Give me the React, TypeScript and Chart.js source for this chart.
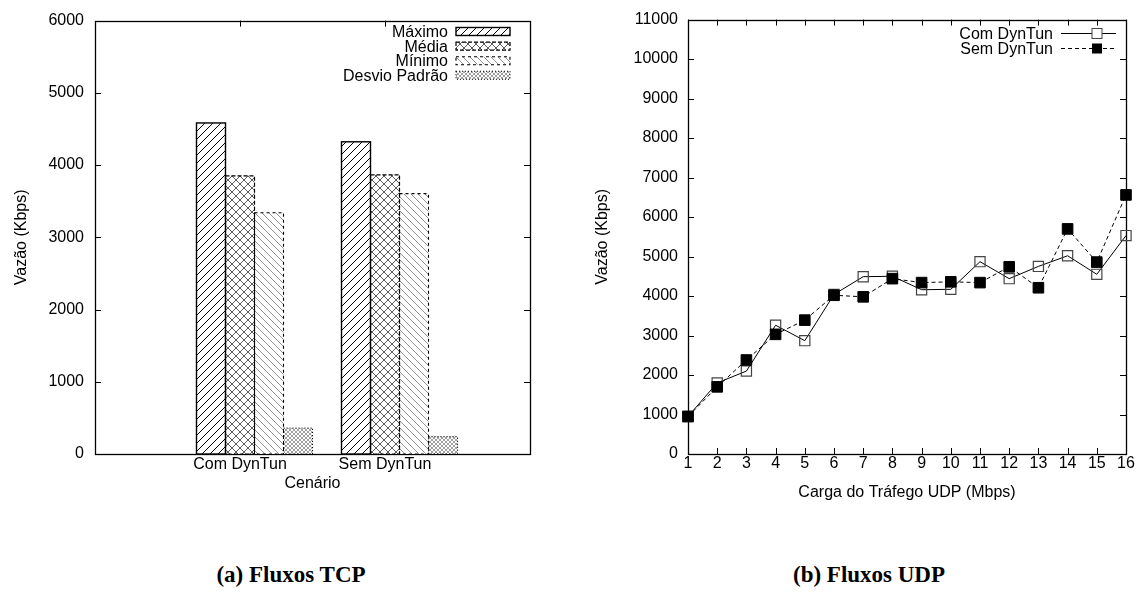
import React, { useEffect, useRef } from 'react';
import { Chart, registerables } from 'chart.js';

Chart.register(...registerables);

// ---------------- data ----------------
const tcpCategories = ['Com DynTun', 'Sem DynTun'];
const tcpSeriesNames = ['Máximo', 'Média', 'Mínimo', 'Desvio Padrão'];
const tcpMaximo = [4583, 4322];
const tcpMedia = [3851, 3865];
const tcpMinimo = [3339, 3604];
const tcpDesvio = [359, 240];
const tcpYTicks = [0, 1000, 2000, 3000, 4000, 5000, 6000];

const udpLoad = [1, 2, 3, 4, 5, 6, 7, 8, 9, 10, 11, 12, 13, 14, 15, 16];
const udpCom = [950, 1800, 2100, 3260, 2870, 4040, 4490, 4500, 4160, 4170, 4870, 4440, 4750, 5020, 4550, 5530];
const udpSem = [950, 1700, 2380, 3030, 3390, 4020, 3980, 4440, 4340, 4360, 4340, 4740, 4210, 5700, 4860, 6560];
const udpSeriesNames = ['Com DynTun', 'Sem DynTun'];
const udpYTicks = [0, 1000, 2000, 3000, 4000, 5000, 6000, 7000, 8000, 9000, 10000, 11000];

// ---------------- styles ----------------
const FONT = "'Liberation Sans', Arial, Helvetica, sans-serif";
const FS = 16;

function makePattern(kind: string): CanvasPattern | string {
  const s = kind === 'desvio' ? 4 : kind === 'minimo' ? 7 : 8;
  const c = document.createElement('canvas');
  c.width = s;
  c.height = s;
  const g = c.getContext('2d');
  if (!g) return '#fff';
  g.fillStyle = '#fff';
  g.fillRect(0, 0, s, s);
  const slash = () => {
    for (const k of [-s, 0, s]) {
      g.beginPath();
      g.moveTo(k - 1, s + 1);
      g.lineTo(k + s + 1, -1);
      g.stroke();
    }
  };
  const back = () => {
    for (const k of [-s, 0, s]) {
      g.beginPath();
      g.moveTo(k - 1, -1);
      g.lineTo(k + s + 1, s + 1);
      g.stroke();
    }
  };
  if (kind === 'maximo') {
    g.strokeStyle = '#000';
    g.lineWidth = 1;
    slash();
  } else if (kind === 'media') {
    g.strokeStyle = '#333';
    g.lineWidth = 0.8;
    slash();
    back();
  } else if (kind === 'minimo') {
    g.strokeStyle = '#777';
    g.lineWidth = 0.8;
    back();
  } else {
    g.strokeStyle = '#777';
    g.lineWidth = 0.7;
    slash();
    back();
  }
  const p = g.createPattern(c, 'repeat');
  return p || '#fff';
}

const outlineStyles = [
  { width: 1.4, dash: [] as number[] },
  { width: 1.2, dash: [4, 2] },
  { width: 1.1, dash: [3, 3] },
  { width: 1.1, dash: [1, 2] },
];

// frame + inward ticks (drawn before datasets, like gnuplot)
const framePlugin = {
  id: 'frameTicks',
  beforeDatasetsDraw(chart: any, _a: any, opts: any) {
    const { ctx, chartArea } = chart;
    const { left, right, top, bottom } = chartArea;
    const len = 6;
    ctx.save();
    ctx.strokeStyle = '#000';
    ctx.lineWidth = 1;
    ctx.setLineDash([]);
    const ys = chart.scales.y;
    ys.ticks.forEach((t: any) => {
      const py = Math.round(ys.getPixelForValue(t.value)) + 0.5;
      ctx.beginPath();
      ctx.moveTo(left, py);
      ctx.lineTo(left + len, py);
      ctx.moveTo(right, py);
      ctx.lineTo(right - len, py);
      ctx.stroke();
    });
    const xs = chart.scales.x;
    const off = opts.xOffset || 0;
    xs.ticks.forEach((t: any) => {
      const px = Math.round(xs.getPixelForValue(t.value) + off) + 0.5;
      ctx.beginPath();
      ctx.moveTo(px, bottom);
      ctx.lineTo(px, bottom - len);
      ctx.moveTo(px, top);
      ctx.lineTo(px, top + len);
      ctx.stroke();
    });
    ctx.lineWidth = 1.3;
    ctx.strokeRect(Math.round(left) + 0.5, Math.round(top) + 0.5, Math.round(right - left), Math.round(bottom - top));
    ctx.restore();
  },
};

const barOutlinePlugin = {
  id: 'barOutline',
  afterDatasetsDraw(chart: any) {
    const ctx = chart.ctx;
    chart.data.datasets.forEach((_ds: any, di: number) => {
      const meta = chart.getDatasetMeta(di);
      const st = outlineStyles[di];
      ctx.save();
      ctx.strokeStyle = '#000';
      ctx.lineWidth = st.width;
      ctx.setLineDash(st.dash);
      meta.data.forEach((el: any) => {
        const { x, y, base, width } = el.getProps(['x', 'y', 'base', 'width'], true);
        ctx.strokeRect(x - width / 2, y, width, base - y);
      });
      ctx.restore();
    });
  },
};

const barLegendPlugin = {
  id: 'barLegend',
  afterDraw(chart: any, _a: any, opts: any) {
    const ctx = chart.ctx;
    ctx.save();
    ctx.font = `${FS}px ${FONT}`;
    ctx.textAlign = 'right';
    ctx.textBaseline = 'middle';
    chart.data.datasets.forEach((ds: any, i: number) => {
      const y = opts.y0 + i * opts.dy;
      ctx.fillStyle = '#000';
      ctx.fillText(ds.label, opts.textRight, y + 1);
      ctx.fillStyle = ds.backgroundColor;
      ctx.fillRect(opts.boxLeft, y - opts.boxH / 2, opts.boxW, opts.boxH);
      ctx.strokeStyle = '#000';
      ctx.lineWidth = outlineStyles[i].width;
      ctx.setLineDash(outlineStyles[i].dash);
      ctx.strokeRect(opts.boxLeft, y - opts.boxH / 2, opts.boxW, opts.boxH);
      ctx.setLineDash([]);
    });
    ctx.restore();
  },
};

const lineLegendPlugin = {
  id: 'lineLegend',
  afterDraw(chart: any, _a: any, opts: any) {
    const ctx = chart.ctx;
    ctx.save();
    ctx.font = `${FS}px ${FONT}`;
    ctx.textAlign = 'right';
    ctx.textBaseline = 'middle';
    const dsSorted = [...chart.data.datasets].sort((a: any, b: any) => a.legendIndex - b.legendIndex);
    dsSorted.forEach((ds: any, i: number) => {
      const y = Math.round(opts.y0 + i * opts.dy) + 0.5;
      ctx.fillStyle = '#000';
      ctx.fillText(ds.label, opts.textRight, y + 1);
      ctx.strokeStyle = '#000';
      ctx.lineWidth = 1;
      ctx.setLineDash(ds.borderDash || []);
      ctx.beginPath();
      ctx.moveTo(opts.lineLeft, y);
      ctx.lineTo(opts.lineRight, y);
      ctx.stroke();
      ctx.setLineDash([]);
      const cx = opts.marker;
      const h = 5;
      if (ds.pointBackgroundColor === '#000') {
        ctx.fillStyle = '#000';
        ctx.fillRect(cx - h, y - h, 2 * h, 2 * h);
      } else {
        ctx.fillStyle = '#fff';
        ctx.fillRect(cx - h, y - h, 2 * h, 2 * h);
        ctx.strokeStyle = '#444';
        ctx.strokeRect(cx - h, y - h, 2 * h, 2 * h);
      }
    });
    ctx.restore();
  },
};

const plainNumber = (v: any) => String(v);

// ---------------- chart configs ----------------
function buildTcp(): any {
  const patterns = ['maximo', 'media', 'minimo', 'desvio'].map(makePattern);
  const series = [tcpMaximo, tcpMedia, tcpMinimo, tcpDesvio];
  return {
    type: 'bar',
    data: {
      datasets: series.map((vals, si) => ({
        label: tcpSeriesNames[si],
        data: vals.map((v, i) => ({ x: i, y: v })),
        backgroundColor: patterns[si],
        borderWidth: 0,
        categoryPercentage: 0.8,
        barPercentage: 1,
      })),
    },
    plugins: [framePlugin, barOutlinePlugin, barLegendPlugin],
    options: {
      responsive: false,
      animation: false,
      devicePixelRatio: 1,
      layout: { padding: { left: 12, top: 16, right: 40, bottom: 17 } },
      plugins: {
        legend: { display: false },
        tooltip: { enabled: false },
        frameTicks: { xOffset: -14.5 },
        barLegend: { y0: 31.5, dy: 14.6, textRight: 448, boxLeft: 456, boxW: 54, boxH: 8 },
      },
      scales: {
        x: {
          type: 'linear',
          offset: false,
          min: -1.1,
          max: 1.9,
          afterBuildTicks: (s: any) => {
            s.ticks = tcpCategories.map((_c, i) => ({ value: i }));
          },
          afterFit: (s: any) => {
            s.height = 39;
          },
          grid: { display: false, drawTicks: false },
          border: { display: false },
          ticks: {
            padding: 1,
            labelOffset: -14.5,
            maxRotation: 0,
            autoSkip: false,
            color: '#000',
            font: { family: FONT, size: FS },
            callback: (v: any) => tcpCategories[v] ?? '',
          },
          title: { display: true, text: 'Cenário', color: '#000', padding: 0, font: { family: FONT, size: FS } },
        },
        y: {
          min: tcpYTicks[0],
          max: tcpYTicks[tcpYTicks.length - 1],
          afterBuildTicks: (s: any) => {
            s.ticks = tcpYTicks.map((v) => ({ value: v }));
          },
          afterFit: (s: any) => {
            s.width = 83;
          },
          grid: { display: false, drawTicks: false },
          border: { display: false },
          ticks: { padding: 11, color: '#000', font: { family: FONT, size: FS }, callback: plainNumber },
          title: { display: true, text: 'Vazão (Kbps)', color: '#000', padding: 0, font: { family: FONT, size: FS } },
        },
      },
    },
  };
}

function buildUdp(): any {
  return {
    type: 'line',
    data: {
      datasets: [
        {
          label: udpSeriesNames[1],
          legendIndex: 1,
          order: 0,
          data: udpLoad.map((x, i) => ({ x, y: udpSem[i] })),
          borderColor: '#000',
          borderWidth: 1,
          borderDash: [4, 3],
          pointStyle: 'rect',
          pointRadius: 7.5,
          pointBackgroundColor: '#000',
          pointBorderColor: '#000',
          pointBorderWidth: 1,
          tension: 0,
          clip: false,
        },
        {
          label: udpSeriesNames[0],
          legendIndex: 0,
          order: 1,
          data: udpLoad.map((x, i) => ({ x, y: udpCom[i] })),
          borderColor: '#000',
          borderWidth: 1,
          pointStyle: 'rect',
          pointRadius: 7.2,
          pointBackgroundColor: 'rgba(255,255,255,0)',
          pointBorderColor: '#444',
          pointBorderWidth: 1.2,
          tension: 0,
          clip: false,
        },
      ],
    },
    plugins: [framePlugin, lineLegendPlugin],
    options: {
      responsive: false,
      animation: false,
      devicePixelRatio: 1,
      layout: { padding: { left: 23, top: 16, right: 14, bottom: 8 } },
      plugins: {
        legend: { display: false },
        tooltip: { enabled: false },
        frameTicks: { xOffset: 0 },
        lineLegend: { y0: 33, dy: 15, textRight: 483, lineLeft: 491, lineRight: 546, marker: 527 },
      },
      scales: {
        x: {
          type: 'linear',
          min: udpLoad[0],
          max: udpLoad[udpLoad.length - 1],
          afterBuildTicks: (s: any) => {
            s.ticks = udpLoad.map((v) => ({ value: v }));
          },
          afterFit: (s: any) => {
            s.height = 48;
          },
          grid: { display: false, drawTicks: false },
          border: { display: false },
          ticks: { padding: 0, maxRotation: 0, autoSkip: false, color: '#000', font: { family: FONT, size: FS }, callback: plainNumber },
          title: {
            display: true,
            text: 'Carga do Tráfego UDP (Mbps)',
            color: '#000',
            padding: 0,
            font: { family: FONT, size: FS },
          },
        },
        y: {
          min: udpYTicks[0],
          max: udpYTicks[udpYTicks.length - 1],
          afterBuildTicks: (s: any) => {
            s.ticks = udpYTicks.map((v) => ({ value: v }));
          },
          afterFit: (s: any) => {
            s.width = 95;
          },
          grid: { display: false, drawTicks: false },
          border: { display: false },
          ticks: { padding: 10, color: '#000', font: { family: FONT, size: FS }, callback: plainNumber },
          title: { display: true, text: 'Vazão (Kbps)', color: '#000', padding: 0, font: { family: FONT, size: FS } },
        },
      },
    },
  };
}

// ---------------- components ----------------
function ChartBox(props: { left: number; top: number; width: number; height: number; build: () => any }) {
  const ref = useRef<HTMLCanvasElement>(null);
  useEffect(() => {
    if (!ref.current) return;
    const chart = new Chart(ref.current, props.build());
    return () => chart.destroy();
  }, []);
  return (
    <div style={{ position: 'absolute', left: props.left, top: props.top, width: props.width, height: props.height }}>
      <canvas ref={ref} width={props.width} height={props.height} style={{ display: 'block', width: props.width, height: props.height }} />
    </div>
  );
}

const captionStyle: React.CSSProperties = {
  position: 'absolute',
  top: 562,
  width: 300,
  textAlign: 'center',
  fontFamily: "'Liberation Serif', 'Times New Roman', serif",
  fontWeight: 'bold',
  fontSize: 23,
  lineHeight: '26px',
  color: '#000',
};

export default function App() {
  return (
    <div style={{ position: 'fixed', left: 0, top: 0, width: 1140, height: 603, background: '#fff', overflow: 'hidden' }}>
      <ChartBox left={0} top={0} width={570} height={510} build={buildTcp} />
      <ChartBox left={570} top={0} width={570} height={510} build={buildUdp} />
      <div style={{ ...captionStyle, left: 291 - 150 }}>(a) Fluxos TCP</div>
      <div style={{ ...captionStyle, left: 869 - 150 }}>(b) Fluxos UDP</div>
    </div>
  );
}
